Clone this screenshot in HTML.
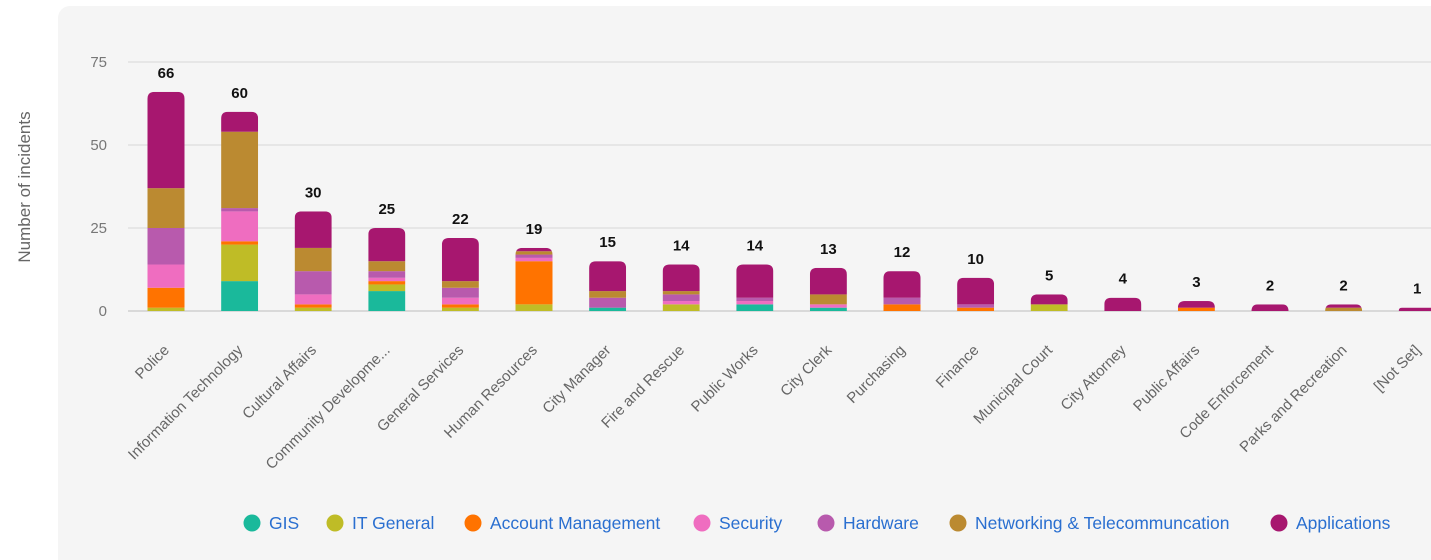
<!DOCTYPE html>
<html><head><meta charset="utf-8"><style>
body{margin:0;background:#fff;width:1431px;height:560px;overflow:hidden;font-family:"Liberation Sans",sans-serif}
</style></head><body>
<svg id="chart" width="1431" height="560" xmlns="http://www.w3.org/2000/svg" style="position:absolute;left:0;top:0">
<rect x="58" y="6" width="1390" height="570" rx="12" fill="#f5f5f5"/>
<text transform="translate(30,187) rotate(-90)" text-anchor="middle" font-size="17" fill="#666">Number of incidents</text>
<g id="grid"></g><g id="bars"></g><g id="labels"></g><g id="legend"></g>
</svg>
<script>
const categories=["Police","Information Technology","Cultural Affairs","Community Developme...","General Services","Human Resources","City Manager","Fire and Rescue","Public Works","City Clerk","Purchasing","Finance","Municipal Court","City Attorney","Public Affairs","Code Enforcement","Parks and Recreation","[Not Set]"];
const seriesNames=["GIS","IT General","Account Management","Security","Hardware","Networking & Telecommuncation","Applications"];
const gis=[0,9,0,6,0,0,1,0,2,1,0,0,0,0,0,0,0,0];
const itGeneral=[1,11,1,2,1,2,0,2,0,0,0,0,2,0,0,0,0,0];
const accountMgmt=[6,1,1,1,1,13,0,0,0,0,2,1,0,0,1,0,0,0];
const security=[7,9,3,1,2,1,0,1,1,1,0,0,0,0,0,0,0,0];
const hardware=[11,1,7,2,3,1,3,2,1,0,2,1,0,0,0,0,0,0];
const networking=[12,23,7,3,2,1,2,1,0,3,0,0,0,0,0,0,1,0];
const applications=[29,6,11,10,13,1,9,8,10,8,8,8,3,4,2,2,1,1];
const yTicks=[0,25,50,75];
const series=[gis,itGeneral,accountMgmt,security,hardware,networking,applications];
const colors=["#1ab99b","#bfbc26","#ff7300","#ef6dc0","#b85aad","#bb8a31","#a7176f"];
const NS="http://www.w3.org/2000/svg";
const y0=311,pxPer=249/75;
const yScale=v=>y0-v*pxPer;
const xScale=i=>166+i*73.6;
const bw=37;
function mk(t,a,p){const e=document.createElementNS(NS,t);for(const k in a)e.setAttribute(k,a[k]);p.appendChild(e);return e;}
const grid=document.getElementById('grid');
yTicks.forEach(t=>{
 const l=mk('line',{x1:128,x2:1431,y1:yScale(t),y2:yScale(t),stroke:t===0?'#d0d0d0':'#e2e2e2','stroke-width':1.5},grid);
 
 
 const tx=mk('text',{x:107,y:yScale(t)+5,'text-anchor':'end','font-size':15,fill:'#777'},grid);
 tx.textContent=t;
 
 
});
const bars=document.getElementById('bars'),labels=document.getElementById('labels');
const defs=mk('defs',{},bars);
categories.forEach((c,i)=>{
 const total=series.reduce((s,a)=>s+a[i],0);
 const x=xScale(i)-bw/2,top=yScale(total),h=y0-top,r=Math.min(7,h);
 const cp=mk('clipPath',{id:'cp'+i},defs);
 mk('path',{d:`M${x},${y0}V${top+r}Q${x},${top} ${x+r},${top}H${x+bw-r}Q${x+bw},${top} ${x+bw},${top+r}V${y0}Z`},cp);
 const g=mk('g',{'clip-path':`url(#cp${i})`},bars);
 
 
 let acc=0;
 series.forEach((s,k)=>{
  if(!s[i])return;
  const r1=mk('rect',{x:x,y:yScale(acc+s[i]),width:bw,height:s[i]*pxPer,fill:colors[k]},g);
  
  
  acc+=s[i];
 });
 const vl=mk('text',{x:xScale(i),y:top-14,'text-anchor':'middle','font-size':15,'font-weight':'bold',fill:'#111'},labels);
 vl.textContent=total;
 
 
 const cl=mk('text',{transform:`translate(${xScale(i)+4},${y0+40}) rotate(-45)`,'text-anchor':'end','font-size':15,fill:'#666'},labels);
 cl.textContent=c;
 
 
});
const lg=document.getElementById('legend');
const lx=[252,335,473,702,826,958,1279];
seriesNames.forEach((n,k)=>{
 const g=mk('g',{},lg);
 
 
 mk('circle',{cx:lx[k],cy:523,r:8.5,fill:colors[k]},g);
 const t=mk('text',{x:lx[k]+17,y:529,'font-size':17.5,fill:'#2a6fd0'},g);
 t.textContent=n;
});
</script>
</body></html>
